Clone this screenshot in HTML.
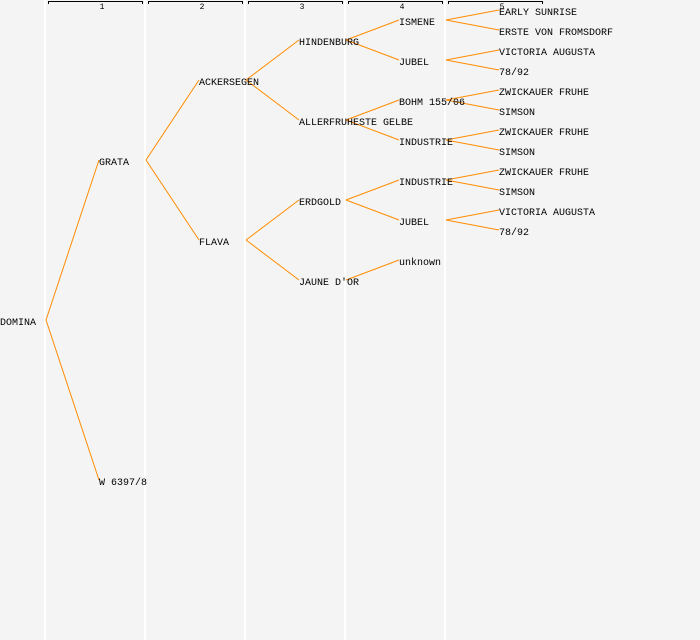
<!DOCTYPE html>
<html><head><style>
html,body{margin:0;padding:0;background:#f4f4f4;}
svg{display:block;}
text{font-family:"Liberation Mono",monospace;font-size:10px;fill:#000;}
.n{font-size:8px;}
</style></head><body>
<svg width="700" height="640" viewBox="0 0 700 640">
<rect width="700" height="640" fill="#f4f4f4"/>
<g stroke="#fff" stroke-width="2">
<line x1="45" y1="0" x2="45" y2="640"/><line x1="145" y1="0" x2="145" y2="640"/>
<line x1="245" y1="0" x2="245" y2="640"/><line x1="345" y1="0" x2="345" y2="640"/>
<line x1="445" y1="0" x2="445" y2="640"/>
</g>
<g stroke="#000" fill="none" stroke-width="1">
<path d="M48.5 4V1.5H142.5V4"/><path d="M148.5 4V1.5H242.5V4"/><path d="M248.5 4V1.5H342.5V4"/><path d="M348.5 4V1.5H442.5V4"/><path d="M448.5 4V1.5H542.5V4"/>
</g>
<text class="n" x="102" y="9" text-anchor="middle">1</text>
<text class="n" x="202" y="9" text-anchor="middle">2</text>
<text class="n" x="302" y="9" text-anchor="middle">3</text>
<text class="n" x="402" y="9" text-anchor="middle">4</text>
<text class="n" x="502" y="9" text-anchor="middle">5</text>
<g stroke="#ff8c00" stroke-width="1" fill="none">
<path d="M46 320L99 160M46 320L99 480"/>
<path d="M146 160L199 80M146 160L199 240"/>
<path d="M246 80L299 40M246 80L299 120M246 240L299 200M246 240L299 280"/>
<path d="M346 40L399 20M346 40L399 60M346 120L399 100M346 120L399 140M346 200L399 180M346 200L399 220M346 280L399 260"/>
<path d="M446 20L499 10M446 20L499 30M446 60L499 50M446 60L499 70M446 100L499 90M446 100L499 110M446 140L499 130M446 140L499 150M446 180L499 170M446 180L499 190M446 220L499 210M446 220L499 230"/>
</g>
<g>
<text x="0" y="325">DOMINA</text>
<text x="99" y="165">GRATA</text>
<text x="99" y="485">W 6397/8</text>
<text x="199" y="85">ACKERSEGEN</text>
<text x="199" y="245">FLAVA</text>
<text x="299" y="45">HINDENBURG</text>
<text x="299" y="125">ALLERFRUHESTE GELBE</text>
<text x="299" y="205">ERDGOLD</text>
<text x="299" y="285">JAUNE D'OR</text>
<text x="399" y="25">ISMENE</text>
<text x="399" y="65">JUBEL</text>
<text x="399" y="105">BOHM 155/06</text>
<text x="399" y="145">INDUSTRIE</text>
<text x="399" y="185">INDUSTRIE</text>
<text x="399" y="225">JUBEL</text>
<text x="399" y="265">unknown</text>
<text x="499" y="15">EARLY SUNRISE</text>
<text x="499" y="35">ERSTE VON FROMSDORF</text>
<text x="499" y="55">VICTORIA AUGUSTA</text>
<text x="499" y="75">78/92</text>
<text x="499" y="95">ZWICKAUER FRUHE</text>
<text x="499" y="115">SIMSON</text>
<text x="499" y="135">ZWICKAUER FRUHE</text>
<text x="499" y="155">SIMSON</text>
<text x="499" y="175">ZWICKAUER FRUHE</text>
<text x="499" y="195">SIMSON</text>
<text x="499" y="215">VICTORIA AUGUSTA</text>
<text x="499" y="235">78/92</text>
</g>
</svg>
</body></html>
